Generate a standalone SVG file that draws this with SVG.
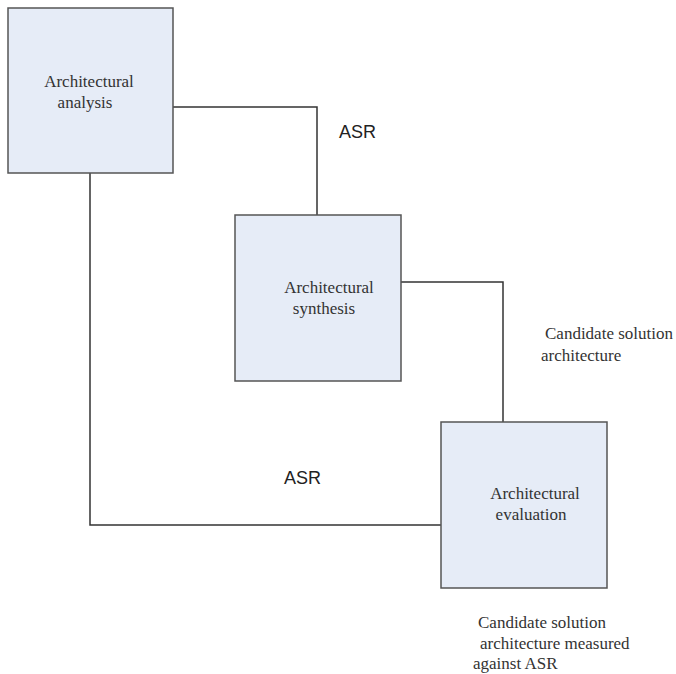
<svg xmlns="http://www.w3.org/2000/svg" width="676" height="674" viewBox="0 0 676 674">
<style>
.box{fill:#e6ecf7;stroke:#555;stroke-width:1.5}
.ln{fill:none;stroke:#333;stroke-width:1.5}
.t{font-family:"Liberation Serif",serif;font-size:17px;fill:#333}
.s{font-family:"Liberation Sans",sans-serif;font-size:18px;fill:#222}
</style>
<rect width="676" height="674" fill="#fff"/>
<g id="connectors">
<polyline class="ln" points="173,107 317,107 317,215"/>
<polyline class="ln" points="401,282 503,282 503,422"/>
<polyline class="ln" points="90,173 90,525 441,525"/>
</g>
<g id="analysis">
<rect class="box" x="8" y="8" width="165" height="165"/>
<text class="t" text-anchor="middle"><tspan x="89" y="87">Architectural</tspan><tspan x="85" y="108">analysis</tspan></text>
</g>
<g id="synthesis">
<rect class="box" x="235" y="215" width="166" height="166"/>
<text class="t" text-anchor="middle"><tspan x="329" y="293">Architectural</tspan><tspan x="324" y="314">synthesis</tspan></text>
</g>
<g id="evaluation">
<rect class="box" x="441" y="422" width="166" height="166"/>
<text class="t" text-anchor="middle"><tspan x="535" y="499">Architectural</tspan><tspan x="531" y="520">evaluation</tspan></text>
</g>
<g id="labels">
<text class="s" x="339" y="138">ASR</text>
<text class="s" x="284" y="484">ASR</text>
<text class="t"><tspan x="545" y="339">Candidate solution</tspan><tspan x="541" y="361">architecture</tspan></text>
<text class="t"><tspan x="478" y="628">Candidate solution</tspan><tspan x="480" y="649">architecture measured</tspan><tspan x="473" y="669">against ASR</tspan></text>
</g>
</svg>
